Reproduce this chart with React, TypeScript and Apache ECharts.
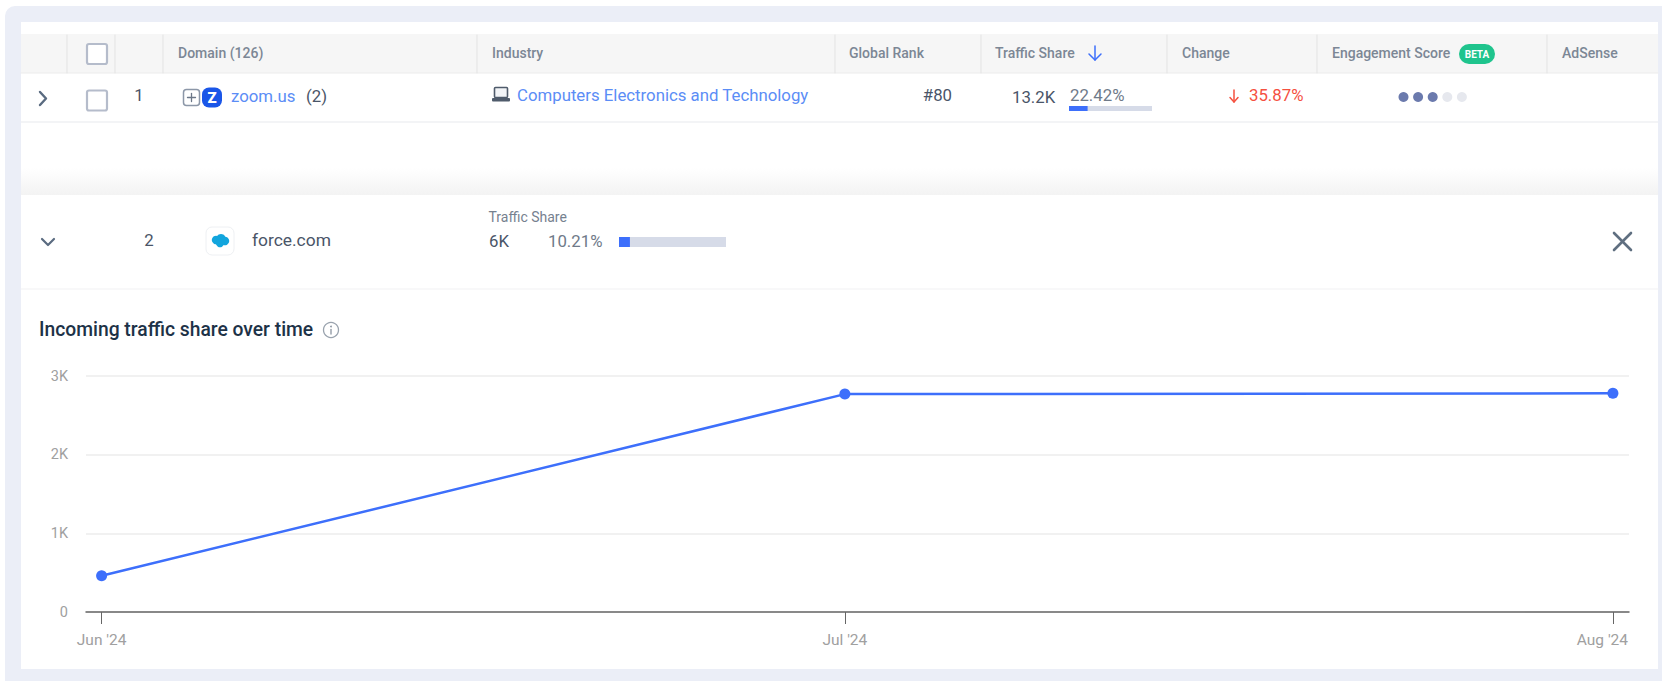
import React, { useEffect, useRef } from "react";
import * as echarts from "echarts";

// Line chart data: incoming traffic per month, positioned by day offset from 1 June
const monthDays = [0, 30, 61];
const monthLabels = ["Jun '24", "Jul '24", "Aug '24"];
const trafficValues = [460, 2770, 2780];
const yTickValues = [0, 1000, 2000, 3000];

// Table contents
const headerLabels = ["Domain (126)", "Industry", "Global Rank", "Traffic Share", "Change", "Engagement Score", "AdSense"];
const headerX = [178, 492, 849, 995, 1182, 1332, 1562];
const columnEdges = [67, 115, 163, 477, 835, 981, 1167, 1317, 1547];
const engagementDots = [1, 1, 1, 0, 0];
const zoomSharePct = 22.42;
const forceSharePct = 10.21;

const FONT = "Roboto, sans-serif";
const BLUE = "#3D6FFB";
const LINK = "#5B8DF6";
const TEXT = "#4A5568";
const HEAD = "#7C8795";
const ROW = 16.8;

const txt = (text: string, x: number, y: number, size: number, fill: string, weight = 400, align = "left") => ({
  type: "text",
  silent: true,
  style: {
    text, x, y, fill,
    font: `${weight} ${size}px ${FONT}`,
    textAlign: align, textVerticalAlign: "middle",
    align, verticalAlign: "middle",
  },
});
const rect = (x: number, y: number, width: number, height: number, fill: any, r = 0, stroke?: string, lineWidth = 0) => ({
  type: "rect",
  silent: true,
  shape: { x, y, width, height, r },
  style: { fill, stroke, lineWidth },
});
const seg = (x1: number, y1: number, x2: number, y2: number, stroke: string, lineWidth = 1.5) => ({
  type: "line",
  silent: true,
  shape: { x1, y1, x2, y2 },
  style: { stroke, lineWidth, lineCap: "round" },
});
const poly = (points: number[][], stroke: string, lineWidth = 2) => ({
  type: "polyline",
  silent: true,
  shape: { points },
  style: { stroke, lineWidth, fill: "none", lineCap: "round", lineJoin: "round" },
});
const dot = (cx: number, cy: number, r: number, fill: string) => ({
  type: "circle",
  silent: true,
  shape: { cx, cy, r },
  style: { fill },
});

// Frame, table header, rows and the expanded row's summary
function tableChrome() {
  const els: any[] = [
    rect(5, 6, 1680, 700, "#EBEEF7", 10),
    rect(21, 22, 1637, 647, "#FFFFFF"),
    rect(21, 34, 1637, 39, "#F6F6F6"),
    seg(21, 73, 1658, 73, "#ECECEC", 1),
    rect(21, 121, 1637, 2, "#F3F4F6"),
    {
      type: "rect", silent: true,
      shape: { x: 21, y: 168, width: 1637, height: 27 },
      style: {
        fill: new echarts.graphic.LinearGradient(0, 0, 0, 1, [
          { offset: 0, color: "#FFFFFF" },
          { offset: 1, color: "#F3F3F3" },
        ]),
      },
    },
    seg(21, 289, 1658, 289, "#F1F1F3", 1),
  ];
  columnEdges.forEach((x) => els.push(seg(x, 35, x, 73, "#E3E3E3", 1)));
  headerLabels.forEach((label, i) => els.push(txt(label, headerX[i], 53, 14, HEAD, 500)));

  // Header decorations: sort arrow and beta badge
  els.push(seg(1095, 46, 1095, 60, BLUE, 1.5), poly([[1089, 54], [1095, 60], [1101, 54]], BLUE, 1.5));
  els.push(rect(1459, 44, 36, 20, "#1FC48D", 10), txt("BETA", 1477, 54.5, 10, "#FFFFFF", 700, "center"));

  // Checkboxes
  els.push(rect(87, 44, 20, 20, "#FFFFFF", 2, "#B5BCCB", 2.2), rect(87, 90.5, 20, 20, "#FFFFFF", 2, "#B5BCCB", 2.2));

  // Row 1
  els.push(poly([[40, 92], [46, 98.5], [40, 105]], "#5A6B80", 2.4));
  els.push(txt("1", 139, 95, ROW, TEXT, 400, "center"));
  els.push(rect(183.5, 89.5, 16, 16, "#FFFFFF", 3, "#8C97A8", 1.5), seg(187.5, 97.5, 195.5, 97.5, "#6C7788", 1.3), seg(191.5, 93.5, 191.5, 101.5, "#6C7788", 1.3));
  els.push(rect(202, 87.5, 20, 20, "#1A56E8", 7), txt("Z", 212, 98, 15, "#FFFFFF", 900, "center"));
  els.push(txt("zoom.us", 231, 96, ROW, LINK));
  els.push(txt("(2)", 306, 96, ROW, TEXT));
  els.push(rect(494.5, 87.5, 13, 10, "#F2F4F7", 1, "#4F5B6B", 1.6), rect(492, 98, 18, 3.5, "#4F5B6B", 1));
  els.push(txt("Computers Electronics and Technology", 517, 95, ROW, LINK));
  els.push(txt("#80", 952, 95, ROW, TEXT, 400, "right"));
  els.push(txt("13.2K", 1012, 97, ROW, TEXT));
  els.push(txt(`${zoomSharePct}%`, 1070, 95, ROW, "#6F7A89"));
  els.push(rect(1069, 106, 83, 5, "#D6DBE8"), rect(1069, 106, (83 * zoomSharePct) / 100, 5, BLUE));
  els.push(seg(1234, 90, 1234, 102, "#F5503F", 1.5), poly([[1230, 97.5], [1234, 102], [1238, 97.5]], "#F5503F", 1.5));
  els.push(txt("35.87%", 1249, 95, ROW, "#F5503F"));
  engagementDots.forEach((on, i) => els.push(dot(1403.5 + i * 14.6, 97, 5, on ? "#6B7AAD" : "#E6E8EE")));

  // Row 2 (expanded)
  els.push(poly([[42, 239], [48, 245], [54, 239]], "#5A6B80", 2.2));
  els.push(txt("2", 149, 240, ROW, TEXT, 400, "center"));
  els.push({
    type: "rect", silent: true,
    shape: { x: 206, y: 227, width: 28, height: 28, r: 6 },
    style: { fill: "#FFFFFF", stroke: "#EEF0F3", lineWidth: 1 },
  });
  els.push(dot(216, 240, 4.2, "#12A5DD"), dot(221, 238.5, 4.6, "#12A5DD"), dot(225, 241, 4.2, "#12A5DD"), dot(220, 243, 4.2, "#12A5DD"));
  els.push(txt("force.com", 252, 240, 17.4, TEXT));
  els.push(txt("Traffic Share", 488.5, 217, 14, "#76818F", 400));
  els.push(txt("6K", 489, 241, ROW, TEXT));
  els.push(txt(`${forceSharePct}%`, 548, 241, ROW, "#6F7A89"));
  els.push(rect(619, 237, 107, 10, "#D6DBE8"), rect(619, 237, (107 * forceSharePct) / 100, 10, BLUE));
  els.push(seg(1614, 233, 1631, 250, "#5F6F80", 2.6), seg(1631, 233, 1614, 250, "#5F6F80", 2.6));

  // Chart heading with info glyph
  els.push(txt("Incoming traffic share over time", 39, 329, 19.3, "#1D3247", 500));
  els.push({
    type: "circle", silent: true,
    shape: { cx: 331, cy: 330, r: 7.5 },
    style: { fill: "#FFFFFF", stroke: "#9AA3AE", lineWidth: 1.3 },
  });
  els.push(dot(331, 326.5, 0.9, "#8A94A0"), seg(331, 329.5, 331, 334, "#8A94A0", 1.3));
  return els;
}

export default function App() {
  const ref = useRef<HTMLDivElement>(null);

  useEffect(() => {
    document.body.style.margin = "0";
    const chart = echarts.init(ref.current!, undefined, { renderer: "svg" });
    chart.setOption({
      animation: false,
      backgroundColor: "#FFFFFF",
      graphic: { elements: tableChrome() },
      grid: { left: 86, right: 33, top: 376, bottom: 69, containLabel: false },
      xAxis: {
        type: "value",
        min: -0.63,
        max: 61.65,
        splitLine: { show: false },
        axisLine: { lineStyle: { color: "#666666", width: 1.5 } },
        axisTick: { show: true, length: 12, customValues: monthDays, lineStyle: { color: "#666666", width: 1 } },
        axisLabel: {
          show: true,
          customValues: monthDays,
          margin: 20,
          hideOverlap: false,
          showMinLabel: true,
          showMaxLabel: true,
          color: "#A0A0A0",
          fontFamily: FONT,
          fontSize: 15.5,
          // The last label is pushed left so it ends at the plot edge
          formatter: (value: number) => {
            const i = monthDays.indexOf(value);
            return i === 2 ? `{last|${monthLabels[i]}}` : monthLabels[i];
          },
          rich: { last: { color: "#A0A0A0", fontFamily: FONT, fontSize: 15.5, padding: [0, 21, 0, 0] } },
        },
      },
      yAxis: {
        type: "value",
        min: 0,
        max: 3000,
        interval: 1000,
        axisLine: { show: false },
        axisTick: { show: false },
        splitLine: { lineStyle: { color: "#ECECEC", width: 1.5 } },
        axisLabel: {
          color: "#A0A0A0",
          fontFamily: FONT,
          fontSize: 14.5,
          margin: 18,
          formatter: (v: number) => (yTickValues.includes(v) && v > 0 ? `${v / 1000}K` : `${v}`),
        },
      },
      series: [
        {
          type: "line",
          data: monthDays.map((d, i) => [d, trafficValues[i]]),
          symbol: "circle",
          symbolSize: 11,
          showSymbol: true,
          lineStyle: { color: BLUE, width: 2.5 },
          itemStyle: { color: BLUE },
          silent: true,
        },
      ],
    });
    return () => chart.dispose();
  }, []);

  return <div ref={ref} style={{ position: "absolute", left: 0, top: 0, width: 1662, height: 681 }} />;
}
